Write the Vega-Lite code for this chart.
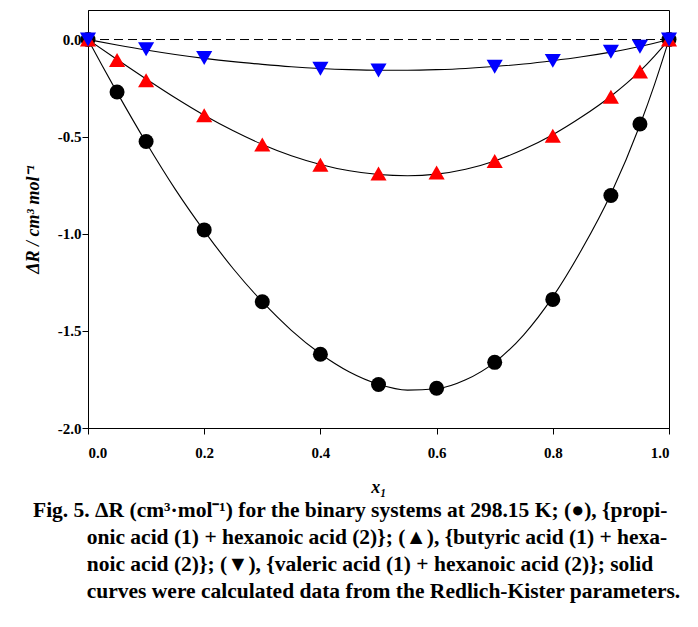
{
  "$schema": "https://vega.github.io/schema/vega-lite/v6.json",
  "autosize": "none",
  "width": 581,
  "height": 418,
  "padding": {"left": 88, "top": 10, "right": 29, "bottom": 199},
  "background": "white",
  "config": {
    "view": {"stroke": "black", "strokeWidth": 1},
    "locale": {"number": {"decimal": ".", "thousands": ",", "grouping": [3], "currency": ["$", ""], "minus": "-"}},
    "axis": {
      "grid": false,
      "domainColor": "black",
      "tickColor": "black",
      "labelColor": "black",
      "titleColor": "black",
      "labelFont": "Liberation Serif",
      "labelFontWeight": "bold",
      "labelFontSize": 15,
      "titleFont": "Liberation Serif",
      "titleFontWeight": "bold",
      "titleFontStyle": "italic",
      "titleFontSize": 18
    }
  },
  "title": {
    "text": [
      "Fig. 5. ΔR (cm³·mol⁻¹) for the binary systems at 298.15 K; (●), {propi-",
      "\u200b\u00a0\u00a0\u00a0\u00a0\u00a0\u00a0\u00a0\u00a0\u00a0\u00a0onic acid (1) + hexanoic acid (2)}; (▲), {butyric acid (1) + hexa-",
      "\u200b\u00a0\u00a0\u00a0\u00a0\u00a0\u00a0\u00a0\u00a0\u00a0\u00a0noic acid (2)}; (▼), {valeric acid (1) + hexanoic acid (2)}; solid",
      "\u200b\u00a0\u00a0\u00a0\u00a0\u00a0\u00a0\u00a0\u00a0\u00a0\u00a0curves were calculated data from the Redlich-Kister parameters."
    ],
    "orient": "bottom",
    "anchor": "start",
    "frame": "group",
    "dx": -55,
    "offset": 4,
    "font": "Liberation Serif",
    "fontSize": 21.5,
    "fontWeight": "bold",
    "lineHeight": 27,
    "color": "black"
  },
  "datasets": {
    "points": [
      {"series": "propionic", "x": 0, "y": 0},
      {"series": "propionic", "x": 0.05, "y": -0.27},
      {"series": "propionic", "x": 0.1, "y": -0.525},
      {"series": "propionic", "x": 0.2, "y": -0.98},
      {"series": "propionic", "x": 0.3, "y": -1.35},
      {"series": "propionic", "x": 0.4, "y": -1.62},
      {"series": "propionic", "x": 0.5, "y": -1.776},
      {"series": "propionic", "x": 0.6, "y": -1.795},
      {"series": "propionic", "x": 0.7, "y": -1.662},
      {"series": "propionic", "x": 0.8, "y": -1.338},
      {"series": "propionic", "x": 0.9, "y": -0.803},
      {"series": "propionic", "x": 0.95, "y": -0.435},
      {"series": "propionic", "x": 1, "y": 0},
      {"series": "butyric", "x": 0, "y": 0},
      {"series": "butyric", "x": 0.05, "y": -0.105},
      {"series": "butyric", "x": 0.1, "y": -0.21},
      {"series": "butyric", "x": 0.2, "y": -0.39},
      {"series": "butyric", "x": 0.3, "y": -0.54},
      {"series": "butyric", "x": 0.4, "y": -0.645},
      {"series": "butyric", "x": 0.5, "y": -0.69},
      {"series": "butyric", "x": 0.6, "y": -0.685},
      {"series": "butyric", "x": 0.7, "y": -0.625},
      {"series": "butyric", "x": 0.8, "y": -0.495},
      {"series": "butyric", "x": 0.9, "y": -0.295},
      {"series": "butyric", "x": 0.95, "y": -0.165},
      {"series": "butyric", "x": 1, "y": 0},
      {"series": "valeric", "x": 0, "y": 0},
      {"series": "valeric", "x": 0.1, "y": -0.05},
      {"series": "valeric", "x": 0.2, "y": -0.095},
      {"series": "valeric", "x": 0.4, "y": -0.15},
      {"series": "valeric", "x": 0.5, "y": -0.16},
      {"series": "valeric", "x": 0.7, "y": -0.14},
      {"series": "valeric", "x": 0.8, "y": -0.11},
      {"series": "valeric", "x": 0.9, "y": -0.063},
      {"series": "valeric", "x": 0.95, "y": -0.037},
      {"series": "valeric", "x": 1, "y": 0}
    ],
    "curves": [
      {"series": "propionic", "x": 0, "y": 0},
      {"series": "propionic", "x": 0.025, "y": -0.138},
      {"series": "propionic", "x": 0.05, "y": -0.272},
      {"series": "propionic", "x": 0.1, "y": -0.53},
      {"series": "propionic", "x": 0.15, "y": -0.77},
      {"series": "propionic", "x": 0.2, "y": -0.985},
      {"series": "propionic", "x": 0.25, "y": -1.18},
      {"series": "propionic", "x": 0.3, "y": -1.35},
      {"series": "propionic", "x": 0.35, "y": -1.497},
      {"series": "propionic", "x": 0.4, "y": -1.618},
      {"series": "propionic", "x": 0.45, "y": -1.712},
      {"series": "propionic", "x": 0.5, "y": -1.775},
      {"series": "propionic", "x": 0.55, "y": -1.805},
      {"series": "propionic", "x": 0.6, "y": -1.798},
      {"series": "propionic", "x": 0.65, "y": -1.752},
      {"series": "propionic", "x": 0.7, "y": -1.662},
      {"series": "propionic", "x": 0.75, "y": -1.52},
      {"series": "propionic", "x": 0.8, "y": -1.325},
      {"series": "propionic", "x": 0.85, "y": -1.08},
      {"series": "propionic", "x": 0.9, "y": -0.795},
      {"series": "propionic", "x": 0.95, "y": -0.44},
      {"series": "propionic", "x": 0.975, "y": -0.232},
      {"series": "propionic", "x": 1, "y": 0},
      {"series": "butyric", "x": 0, "y": 0},
      {"series": "butyric", "x": 0.05, "y": -0.103},
      {"series": "butyric", "x": 0.1, "y": -0.203},
      {"series": "butyric", "x": 0.15, "y": -0.3},
      {"series": "butyric", "x": 0.2, "y": -0.39},
      {"series": "butyric", "x": 0.25, "y": -0.47},
      {"series": "butyric", "x": 0.3, "y": -0.54},
      {"series": "butyric", "x": 0.35, "y": -0.598},
      {"series": "butyric", "x": 0.4, "y": -0.643},
      {"series": "butyric", "x": 0.45, "y": -0.676},
      {"series": "butyric", "x": 0.5, "y": -0.695},
      {"series": "butyric", "x": 0.55, "y": -0.701},
      {"series": "butyric", "x": 0.6, "y": -0.693},
      {"series": "butyric", "x": 0.65, "y": -0.668},
      {"series": "butyric", "x": 0.7, "y": -0.625},
      {"series": "butyric", "x": 0.75, "y": -0.565},
      {"series": "butyric", "x": 0.8, "y": -0.49},
      {"series": "butyric", "x": 0.85, "y": -0.398},
      {"series": "butyric", "x": 0.9, "y": -0.292},
      {"series": "butyric", "x": 0.95, "y": -0.163},
      {"series": "butyric", "x": 0.975, "y": -0.085},
      {"series": "butyric", "x": 1, "y": 0},
      {"series": "valeric", "x": 0, "y": 0},
      {"series": "valeric", "x": 0.05, "y": -0.028},
      {"series": "valeric", "x": 0.1, "y": -0.054},
      {"series": "valeric", "x": 0.15, "y": -0.077},
      {"series": "valeric", "x": 0.2, "y": -0.097},
      {"series": "valeric", "x": 0.25, "y": -0.114},
      {"series": "valeric", "x": 0.3, "y": -0.128},
      {"series": "valeric", "x": 0.35, "y": -0.14},
      {"series": "valeric", "x": 0.4, "y": -0.149},
      {"series": "valeric", "x": 0.45, "y": -0.155},
      {"series": "valeric", "x": 0.5, "y": -0.158},
      {"series": "valeric", "x": 0.55, "y": -0.158},
      {"series": "valeric", "x": 0.6, "y": -0.155},
      {"series": "valeric", "x": 0.65, "y": -0.149},
      {"series": "valeric", "x": 0.7, "y": -0.139},
      {"series": "valeric", "x": 0.75, "y": -0.126},
      {"series": "valeric", "x": 0.8, "y": -0.109},
      {"series": "valeric", "x": 0.85, "y": -0.089},
      {"series": "valeric", "x": 0.9, "y": -0.065},
      {"series": "valeric", "x": 0.95, "y": -0.036},
      {"series": "valeric", "x": 1, "y": 0}
    ]
  },
  "encoding": {
    "x": {
      "field": "x", "type": "quantitative",
      "scale": {"domain": [0, 1], "nice": false, "zero": false},
      "axis": {"title": "x₁", "values": [0, 0.2, 0.4, 0.6, 0.8, 1], "format": ".1f", "tickSize": 6, "labelPadding": 11, "titlePadding": 18, "domain": true}
    },
    "y": {
      "field": "y", "type": "quantitative",
      "scale": {"domain": [-2, 0.152], "nice": false, "zero": false},
      "axis": {"title": "ΔR / cm³ mol⁻¹", "values": [-2, -1.5, -1, -0.5, 0], "format": ".1f", "tickSize": 6, "labelPadding": 1, "titlePadding": 15}
    }
  },
  "layer": [
    {
      "data": {"values": [{"y": 0}]},
      "mark": {"type": "rule", "color": "black", "strokeWidth": 1, "strokeDash": [9, 5]},
      "encoding": {"x": null, "y": {"field": "y", "type": "quantitative"}}
    },
    {
      "data": {"name": "curves"},
      "mark": {"type": "line", "color": "black", "strokeWidth": 1.1, "interpolate": "monotone"},
      "encoding": {"detail": {"field": "series"}}
    },
    {
      "data": {"name": "points"},
      "transform": [{"filter": "datum.series === 'propionic'"}],
      "mark": {"type": "point", "shape": "circle", "filled": true, "opacity": 1, "color": "black", "size": 225}
    },
    {
      "data": {"name": "points"},
      "transform": [{"filter": "datum.series === 'butyric'"}],
      "mark": {"type": "point", "shape": "triangle-up", "filled": true, "opacity": 1, "color": "#ff0000", "size": 260}
    },
    {
      "data": {"name": "points"},
      "transform": [{"filter": "datum.series === 'valeric'"}],
      "mark": {"type": "point", "shape": "triangle-down", "filled": true, "opacity": 1, "color": "#0000ff", "size": 260}
    }
  ]
}
